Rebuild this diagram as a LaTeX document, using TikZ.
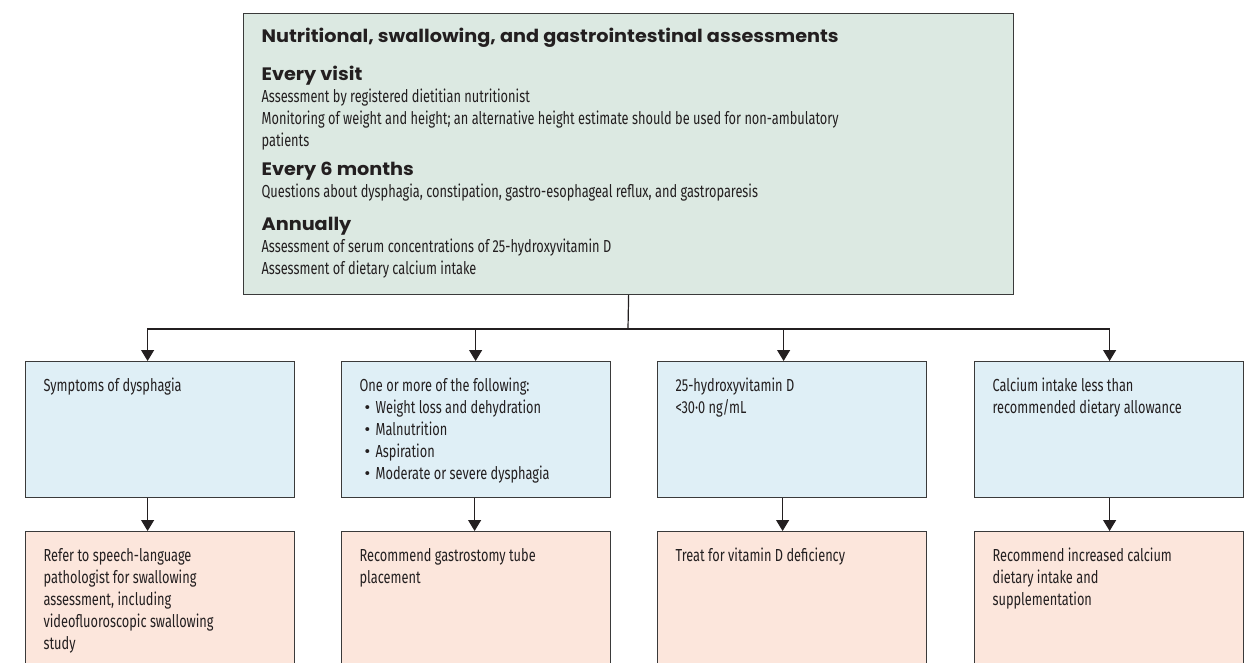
\documentclass[tikz,border=0pt]{standalone}
\usepackage{fontspec}
\setmainfont{Fira Sans}[FakeStretch=0.735]
\newfontfamily\hdfont{Poppins}[FakeStretch=1.07]
\newfontfamily\bulfont{Fira Sans}
\usetikzlibrary{arrows.meta}

\definecolor{hdgreen}{HTML}{DCE9E2}
\definecolor{qblue}{HTML}{DFEFF6}
\definecolor{actorange}{HTML}{FCE6DC}
\definecolor{boxline}{HTML}{3A3A3A}
\definecolor{ink}{HTML}{231F20}

% Zwischenueberschrift und Aufzaehungspunkt
\newcommand{\hd}[2][18]{{\hdfont\bfseries\fontsize{#1}{22}\selectfont\strut #2}\par}
\newcommand{\bul}{\makebox[16pt][l]{\hspace{5pt}{\bulfont•}}}

\begin{document}
\begin{tikzpicture}[x=1pt, y=-1pt, font=\fontsize{17.4}{22}\selectfont, text=ink,
    box/.style={draw=boxline, line width=1.2pt, inner xsep=18pt, inner ysep=14pt, anchor=north west},
    arr/.style={draw=ink, line width=1.2pt, -{Triangle[width=13pt,length=11pt]}}]
    \useasboundingbox (0,0) rectangle (1248,663);
    \clip (0,0) rectangle (1248,663);

    % Kopfkasten
    \node[box, fill=hdgreen] (assess) at (243,13) {\parbox[t][253pt][t]{734pt}{%
        \hd{Nutritional, swallowing, and gastrointestinal assessments}
        \vspace{16pt}\hd{Every visit}
        Assessment by registered dietitian nutritionist\par
        Monitoring of weight and height; an alternative height estimate should be used for non-ambulatory\par
        patients\par
        \vspace{7pt}\hd{Every 6 months}
        Questions about dysphagia, constipation, gastro-esophageal reflux, and gastroparesis\par
        \vspace{11pt}\hd{Annually}
        Assessment of serum concentrations of 25-hydroxyvitamin D\par
        Assessment of dietary calcium intake}};

    % Befunde
    \node[box, fill=qblue] (dys) at (25,361) {\parbox[t][108pt][t]{233pt}{\strut Symptoms of dysphagia}};
    \node[box, fill=qblue] (gast) at (341,361) {\parbox[t][108pt][t]{233pt}{%
        \strut One or more of the following:\par
        \bul Weight loss and dehydration\par
        \bul Malnutrition\par
        \bul Aspiration\par
        \bul Moderate or severe dysphagia}};
    \node[box, fill=qblue] (vitd) at (657,361) {\parbox[t][108pt][t]{233pt}{%
        \strut 25-hydroxyvitamin D\par
        <30·0 ng/mL}};
    \node[box, fill=qblue] (calc) at (974,361) {\parbox[t][108pt][t]{233pt}{%
        \strut Calcium intake less than\par
        recommended dietary allowance}};

    % Massnahmen
    \node[box, fill=actorange] (refer) at (25,531) {\parbox[t][124pt][t]{233pt}{%
        \strut Refer to speech-language\par
        pathologist for swallowing\par
        assessment, including\par
        videofluoroscopic swallowing\par
        study}};
    \node[box, fill=actorange] (tube) at (341,531) {\parbox[t][124pt][t]{233pt}{%
        \strut Recommend gastrostomy tube\par
        placement}};
    \node[box, fill=actorange] (treat) at (657,531) {\parbox[t][124pt][t]{233pt}{%
        \strut Treat for vitamin D deficiency}};
    \node[box, fill=actorange] (suppl) at (974,531) {\parbox[t][124pt][t]{233pt}{%
        \strut Recommend increased calcium\par
        dietary intake and\par
        supplementation}};

    % Pfeile
    \coordinate (split) at (628,329);
    \draw[draw=ink, line width=1.2pt] (assess.south) -- (split);
    \draw[arr] (split) -| ([xshift=-12.5pt]dys.north);
    \draw[arr] (split) -| ([xshift=-0.5pt]gast.north);
    \draw[arr] (split) -| ([xshift=-8.5pt]vitd.north);
    \draw[arr] (split) -| ([xshift=0.5pt]calc.north);

    \draw[arr] ([xshift=-12.5pt]dys.south) -- ([xshift=-12.5pt]refer.north);
    \draw[arr] ([xshift=-1.5pt]gast.south) -- ([xshift=-1.5pt]tube.north);
    \draw[arr] ([xshift=-9.5pt]vitd.south) -- ([xshift=-9.5pt]treat.north);
    \draw[arr] ([xshift=0.5pt]calc.south) -- ([xshift=0.5pt]suppl.north);
\end{tikzpicture}
\end{document}
